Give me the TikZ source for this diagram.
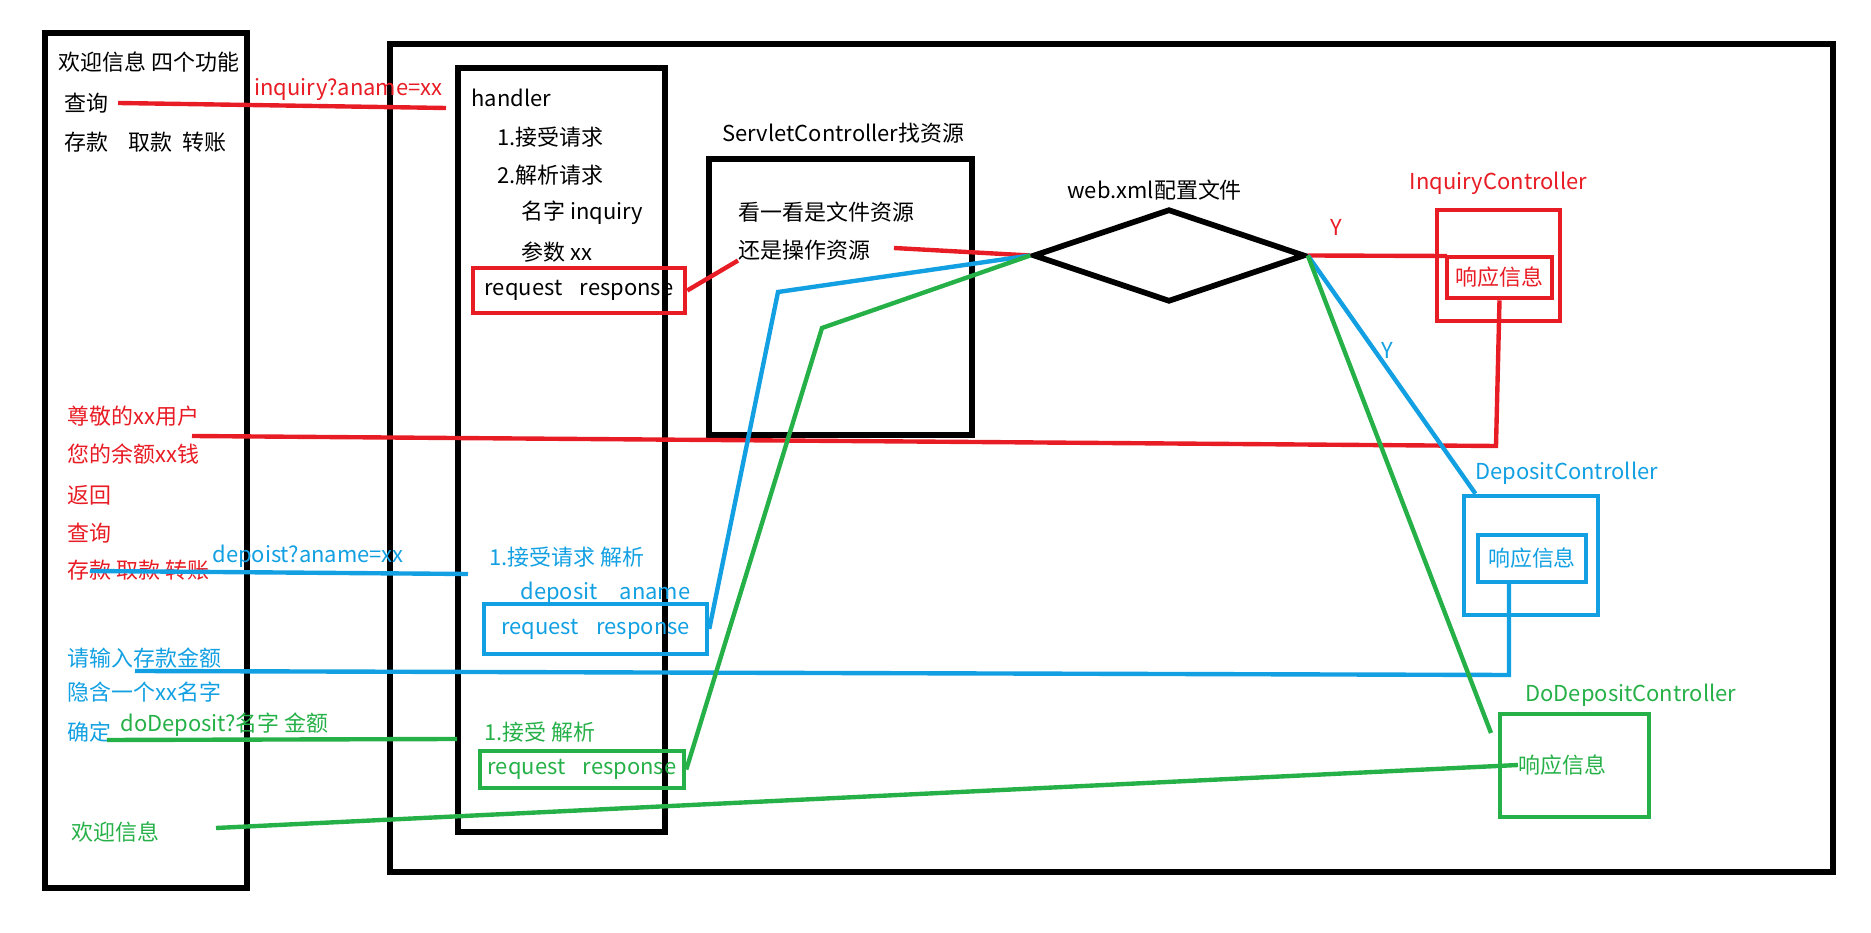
\documentclass[tikz,border=0pt]{standalone}
\usepackage{fontspec}
\setmainfont{Noto Sans CJK SC}
\usetikzlibrary{positioning,fit,shapes.geometric}
\definecolor{pred}{RGB}{232,28,36}
\definecolor{pblue}{RGB}{18,160,226}
\definecolor{pgreen}{RGB}{38,176,72}

\begin{document}
\begin{tikzpicture}[
  x=0.016cm, y=-0.016cm,
  font=\fontsize{10}{12}\selectfont,
  frame/.style={draw, line width=2.6pt, inner sep=0pt},
  cbox/.style={draw, line width=2.1pt, inner sep=0pt},
  txt/.style={anchor=west, inner sep=0pt},
  wire/.style={line width=2pt}
]
\useasboundingbox (0,0) rectangle (1871,933);

% black frames
\node[frame, fit={(45,33) (247,888)}] (menu) {};
\node[frame, fit={(390,44) (1833,872)}] (srv) {};
\node[frame, fit={(458,68) (665,832)}] (hdl) {};
\node[frame, fit={(709,159) (972,435)}] (scbox) {};
\node[frame, diamond, minimum width=4.352cm, minimum height=1.488cm] (web) at (1169,255.5) {};

% menu texts
\node[txt] (welcome) at (58,62) {欢迎信息 四个功能};
\node[txt] (qry) at (64,103) {查询};
\node[txt] (ops) at (64,142) {存款\hspace{0.9em}取款\hspace{0.5em}转账};
\node[txt, pred] (dear) at (67,416) {尊敬的xx用户};
\node[txt, pred] (bal) at (67,454) {您的余额xx钱};
\node[txt, pred] (back) at (67,495) {返回};
\node[txt, pred] (qry2) at (67,533) {查询};
\node[txt, pred] (ops2) at (67,570) {存款 取款 转账};
\node[txt, pblue] (amt) at (67,658) {请输入存款金额};
\node[txt, pblue] (hid) at (67,692) {隐含一个xx名字};
\node[txt, pblue] (ok) at (67,732) {确定};
\node[txt, pgreen] (welcome2) at (71,832) {欢迎信息};

% handler texts
\node[txt] (hname) at (471,98) {handler};
\node[txt] (h1) at (497,137) {1.接受请求};
\node[txt] (h2) at (497,175) {2.解析请求};
\node[txt] (h3) at (521,213) {名字 inquiry};
\node[txt] (h4) at (521,252) {参数 xx};
\node[cbox, pred, text=black, minimum width=3.392cm, minimum height=0.72cm] (rq1) at (579,290.5) {request\hspace{0.8em}response};
\node[txt, pblue] (d1) at (489,557) {1.接受请求 解析};
\node[txt, pblue] (d2) at (520,593) {deposit\hspace{1em}aname};
\node[cbox, pblue, minimum width=3.568cm, minimum height=0.8cm] (rq2) at (595.5,629) {request\hspace{0.8em}response};
\node[txt, pgreen] (g1) at (484,732) {1.接受 解析};
\node[cbox, pgreen, minimum width=3.264cm, minimum height=0.592cm] (rq3) at (582,769.5) {request\hspace{0.8em}response};

% servlet and web.xml
\node[txt] (sctitle) at (722,133) {ServletController找资源};
\node[txt] (look) at (738,212) {看一看是文件资源};
\node[txt] (op) at (738,250) {还是操作资源};
\node[txt] (webtitle) at (1067,190) {web.xml配置文件};

% controllers
\node[cbox, pred, fit={(1437,210) (1560,321)}] (inqbox) {};
\node[txt, pred, above=0.2cm of inqbox] (inqtitle) {InquiryController};
\node[cbox, pred, minimum width=1.68cm, minimum height=0.656cm] (inqresp) at (1499.5,277.5) {响应信息};
\node[cbox, pblue, fit={(1464,496) (1598,615)}] (depbox) {};
\node[txt, pblue] (deptitle) at (1475,473) {DepositController};
\node[cbox, pblue, minimum width=1.728cm, minimum height=0.752cm] (depresp) at (1532,558.5) {响应信息};
\node[cbox, pgreen, fit={(1500,714) (1649,817)}] (dodbox) {};
\node[txt, pgreen] (dodtitle) at (1525,695) {DoDepositController};
\node[txt, pgreen] (dodresp) at (1518,765) {响应信息};

% request labels
\node[txt, pred] (inqurl) at (254,90) {inquiry?aname=xx};
\node[txt, pblue] (depurl) at (212,556) {depoist?aname=xx};
\node[txt, pgreen] (dodurl) at (120,725) {doDeposit?名字 金额};
\node[txt, pred] (yred) at (1330,227) {Y};
\node[txt, pblue] (yblue) at (1381,350) {Y};

% free ends and bends
\coordinate (hin) at (446,108);
\coordinate (sfrom) at (894,248);
\coordinate (rback) at (1496,446);
\coordinate (rhome) at (192,436);
\coordinate (bfrom) at (90,571);
\coordinate (bin) at (468,574);
\coordinate (bbend) at (778,292);
\coordinate (bdrop) at (1509,582);
\coordinate (bback) at (1509,675);
\coordinate (bhome) at (135,671);
\coordinate (gfrom) at (107,740);
\coordinate (gin) at (457,739);
\coordinate (gbend) at (822,328);
\coordinate (gend) at (1491,733);
\coordinate (ghome) at (216,828);
\coordinate (rinq) at (1447,256);

% inquiry flow
\draw[wire, pred] ([xshift=0.15cm]qry.east) -- (hin);
\draw[wire, pred] (rq1.east) -- (op.south west);
\draw[wire, pred] (sfrom) -- (web.west);
\draw[wire, pred] (web.east) -- (rinq);
\draw[wire, pred] (inqresp.south) -- (rback) -- (rhome);

% deposit flow
\draw[wire, pblue] (bfrom) -- (bin);
\draw[wire, pblue] (rq2.east) -- (bbend) -- (web.west);
\draw[wire, pblue] (web.east) -- ([xshift=0.22cm]depbox.north west);
\draw[wire, pblue] (bdrop) -- (bback) -- (bhome);

% doDeposit flow
\draw[wire, pgreen] (gfrom) -- (gin);
\draw[wire, pgreen] (rq3.east) -- (gbend) -- (web.west);
\draw[wire, pgreen] (web.east) -- (gend);
\draw[wire, pgreen] (ghome) -- (dodresp.west);
\end{tikzpicture}
\end{document}
